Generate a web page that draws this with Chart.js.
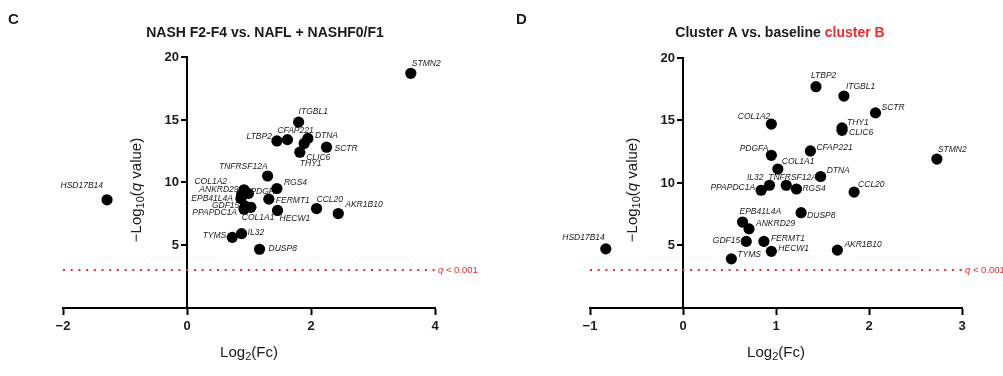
<!DOCTYPE html>
<html><head><meta charset="utf-8">
<script src="https://cdn.jsdelivr.net/npm/chart.js@4/dist/chart.umd.min.js"></script>
<style>
html,body{margin:0;padding:0;background:#fff;width:1003px;height:376px;overflow:hidden}
canvas{position:absolute;top:0}
#c1{left:0}
#c2{left:500px}
</style></head><body>
<canvas id="c1" width="500" height="376" style="width:500px;height:376px"></canvas>
<canvas id="c2" width="503" height="376" style="width:503px;height:376px"></canvas>
<script>
// ---------- DATA ----------
const threshold = 3; // -log10(0.001)

// Panel C: NASH F2-F4 vs. NAFL + NASHF0/F1
const genesC = ['HSD17B14','STMN2','ITGBL1','LTBP2','CFAP221','DTNA','CLIC6','THY1','SCTR','TNFRSF12A','RGS4','COL1A2','PDGFA','ANKRD29','EPB41L4A','FERMT1','GDF15','COL1A1','PPAPDC1A','HECW1','CCL20','AKR1B10','IL32','TYMS','DUSP8'];
const log2fcC = [-1.29,3.61,1.80,1.45,1.62,1.95,1.89,1.82,2.25,1.30,1.45,0.92,0.99,0.88,0.87,1.32,0.94,1.03,0.92,1.46,2.09,2.44,0.88,0.73,1.17];
const negLogQC = [8.6,18.7,14.8,13.3,13.4,13.5,13.1,12.4,12.8,10.5,9.5,9.4,9.1,9.0,8.7,8.65,8.1,8.0,7.85,7.75,7.9,7.5,5.9,5.6,4.65];

// Panel D: Cluster A vs. baseline cluster B
const genesD = ['HSD17B14','STMN2','SCTR','LTBP2','ITGBL1','COL1A2','THY1','CLIC6','PDGFA','CFAP221','COL1A1','DTNA','PPAPDC1A','IL32','TNFRSF12A','RGS4','CCL20','EPB41L4A','ANKRD29','DUSP8','GDF15','FERMT1','HECW1','AKR1B10','TYMS'];
const log2fcD = [-0.83,2.73,2.07,1.43,1.73,0.95,1.71,1.71,0.95,1.37,1.02,1.48,0.84,0.93,1.11,1.22,1.84,0.64,0.71,1.27,0.68,0.87,0.95,1.66,0.52];
const negLogQD = [4.7,11.9,15.6,17.7,16.95,14.7,14.4,14.2,12.2,12.55,11.1,10.5,9.4,9.8,9.8,9.5,9.25,6.85,6.3,7.6,5.3,5.3,4.5,4.6,3.9];

const xTicksC = [-2, 0, 2, 4];
const xTicksD = [-1, 0, 1, 2, 3];
const yTicks = [5, 10, 15, 20];

// ---------- LABEL PLACEMENT (pixel offsets from the point) ----------
const placeC = {
  STMN2:[1,-10,'left'], HSD17B14:[-4,-14,'right'], ITGBL1:[0,-10,'left'], LTBP2:[-5,-4,'right'],
  CFAP221:[-10,-9,'left'], DTNA:[7,-3,'left'], SCTR:[8,1,'left'], CLIC6:[2,14,'left'], THY1:[0,11,'left'],
  TNFRSF12A:[0,-9,'right'], RGS4:[7,-6,'left'], COL1A2:[-17,-8,'right'], ANKRD29:[-3,-5,'right'],
  PDGFA:[2,-2,'left'], EPB41L4A:[-8,0,'right'], FERMT1:[7,1,'left'], GDF15:[-6,0,'right'],
  PPAPDC1A:[-7,3,'right'], COL1A1:[-9,10,'left'], HECW1:[2,8,'left'], CCL20:[0,-9,'left'],
  AKR1B10:[7,-9,'left'], TYMS:[-6,-2,'right'], IL32:[6,-1,'left'], DUSP8:[9,-1,'left']
};
const placeD = {
  LTBP2:[-5,-11,'left'], ITGBL1:[2,-9,'left'], SCTR:[6,-5,'left'], COL1A2:[-1,-7,'right'],
  THY1:[5,-5,'left'], CLIC6:[7,2,'left'], PDGFA:[-3,-7,'right'], CFAP221:[6,-3,'left'],
  COL1A1:[4,-7,'left'], DTNA:[6,-6,'left'], IL32:[-6,-8,'right'], TNFRSF12A:[-18,-8,'left'],
  PPAPDC1A:[-6,-3,'right'], RGS4:[6,0,'left'], CCL20:[4,-7,'left'], EPB41L4A:[-3,-10,'left'],
  DUSP8:[6,3,'left'], ANKRD29:[7,-5,'left'], GDF15:[-6,-1,'right'], FERMT1:[7,-3,'left'],
  HECW1:[7,-3,'left'], AKR1B10:[7,-5,'left'], TYMS:[6,-4,'left'], STMN2:[1,-9,'left'],
  HSD17B14:[-1,-11,'right']
};

// ---------- DRAWING ----------
const FF = "'Liberation Sans', Arial, Helvetica, sans-serif";
const INK = '#1a1a1a';
const RED = '#ee2a2e';

function drawRich(ctx, parts, x, y) {
  let w = 0;
  parts.forEach(p => { ctx.font = p.font; w += ctx.measureText(p.t).width; });
  let cx = x - w / 2;
  ctx.textBaseline = 'middle';
  ctx.textAlign = 'left';
  parts.forEach(p => {
    ctx.font = p.font;
    ctx.fillStyle = p.color || INK;
    ctx.fillText(p.t, cx, y + (p.dy || 0));
    cx += ctx.measureText(p.t).width;
  });
}

const labelPlugin = {
  id: 'geneLabels',
  beforeDatasetsDraw(chart) {
    const cfg = chart.options.plugins.geneLabels;
    const meta = chart.getDatasetMeta(0);
    const ctx = chart.ctx;
    ctx.save();
    ctx.font = 'italic 8.5px ' + FF;
    ctx.fillStyle = INK;
    ctx.textBaseline = 'middle';
    meta.data.forEach((pt, i) => {
      const g = cfg.genes[i];
      const p = cfg.place[g] || [6, 0, 'left'];
      ctx.textAlign = p[2];
      ctx.fillText(g, pt.x + p[0], pt.y + p[1]);
    });
    ctx.restore();
  }
};

function fmtTick(v) { return v < 0 ? '\u2212' + Math.abs(v) : String(v); }

const decorPlugin = {
  id: 'decor',
  afterDraw(chart) {
    const cfg = chart.options.plugins.decor;
    const ctx = chart.ctx;
    const xs = chart.scales.x, ys = chart.scales.y;
    const area = chart.chartArea;
    const ax = xs.getPixelForValue(0);
    ctx.save();
    // y ticks and labels (axis crosses at x = 0)
    ctx.strokeStyle = '#000';
    ctx.lineWidth = 2;
    ctx.font = 'bold 13px ' + FF;
    ctx.fillStyle = INK;
    ctx.textAlign = 'right';
    ctx.textBaseline = 'middle';
    ys.ticks.forEach(t => {
      const py = Math.round(ys.getPixelForValue(t.value));
      ctx.beginPath();
      ctx.moveTo(ax - 6, py);
      ctx.lineTo(ax, py);
      ctx.stroke();
      ctx.fillText(fmtTick(t.value), ax - 8, py + 0.5);
    });
    // panel letter
    ctx.font = 'bold 15px ' + FF;
    ctx.textAlign = 'left';
    ctx.fillText(cfg.letter, cfg.letterX, 20);
    // title
    drawRich(ctx, cfg.title, cfg.titleX, 33);
    // x title
    drawRich(ctx, [
      {t:'Log', font:'15px ' + FF},
      {t:'2', font:'11px ' + FF, dy:4},
      {t:'(Fc)', font:'15px ' + FF}
    ], (area.left + area.right) / 2, 353);
    // y title (rotated)
    ctx.save();
    ctx.translate(ax - 50, 190);
    ctx.rotate(-Math.PI / 2);
    drawRich(ctx, [
      {t:'\u2212Log', font:'15px ' + FF},
      {t:'10', font:'11px ' + FF, dy:4},
      {t:'(', font:'15px ' + FF},
      {t:'q', font:'italic 15px ' + FF},
      {t:' value)', font:'15px ' + FF}
    ], 0, 0);
    ctx.restore();
    // threshold label
    const ty = ys.getPixelForValue(threshold);
    const tx = xs.getPixelForValue(cfg.xMax) + 3;
    ctx.textBaseline = 'middle';
    ctx.textAlign = 'left';
    ctx.fillStyle = RED;
    ctx.font = 'italic 9.5px ' + FF;
    ctx.fillText('q', tx, ty);
    const qw = ctx.measureText('q').width;
    ctx.font = '9.5px ' + FF;
    ctx.fillText(' < 0.001', tx + qw, ty);
    ctx.restore();
  }
};

function makeChart(id, o) {
  return new Chart(document.getElementById(id), {
    type: 'scatter',
    data: { datasets: [
      { data: o.genes.map((g, i) => ({x: o.fc[i], y: o.q[i]})),
        pointRadius: 5.6, pointHoverRadius: 5.6, backgroundColor: '#000', borderColor: '#000',
        borderWidth: 0, clip: false, order: 1 },
      { type: 'line', data: [{x: o.xMin, y: threshold}, {x: o.xMax, y: threshold}],
        borderColor: RED, borderWidth: 2, borderDash: [2, 5.7], pointRadius: 0,
        fill: false, clip: false, order: 2 }
    ]},
    options: {
      responsive: false, animation: false, events: [],
      layout: { padding: o.pad },
      plugins: {
        legend: {display: false}, tooltip: {enabled: false}, title: {display: false},
        geneLabels: { genes: o.genes, place: o.place },
        decor: o.decor
      },
      scales: {
        x: { type: 'linear', min: o.xMin, max: o.xMax, position: {y: 0},
             afterBuildTicks: s => { s.ticks = o.xTicks.map(v => ({value: v})); },
             ticks: { callback: fmtTick, font: {family: FF, size: 13, weight: 'bold'}, color: INK,
                      padding: 5, maxRotation: 0, autoSkip: false },
             grid: { display: true, drawOnChartArea: false, drawTicks: true, tickLength: 6,
                     tickWidth: 2, tickColor: '#000', color: '#000' },
             border: { display: true, color: '#000', width: 2 } },
        y: { type: 'linear', min: 0, max: 20, position: {x: 0},
             afterBuildTicks: s => { s.ticks = yTicks.map(v => ({value: v})); },
             ticks: { display: false },
             grid: { display: false, drawOnChartArea: false, drawTicks: false },
             border: { display: true, color: '#000', width: 2 } }
      }
    },
    plugins: [labelPlugin, decorPlugin]
  });
}

makeChart('c1', {
  genes: genesC, fc: log2fcC, q: negLogQC, place: placeC, xMin: -2, xMax: 4, xTicks: xTicksC,
  pad: {left: 63, right: 65, top: 57, bottom: 68.5},
  decor: { letter: 'C', letterX: 8, titleX: 265, xMax: 4,
    title: [{t: 'NASH F2-F4 vs. NAFL + NASHF0/F1', font: 'bold 14px ' + FF}] }
});
makeChart('c2', {
  genes: genesD, fc: log2fcD, q: negLogQD, place: placeD, xMin: -1, xMax: 3, xTicks: xTicksD,
  pad: {left: 90, right: 41, top: 58, bottom: 68.5},
  decor: { letter: 'D', letterX: 16, titleX: 280, xMax: 3,
    title: [{t: 'Cluster A vs. baseline ', font: 'bold 14px ' + FF},
            {t: 'cluster B', font: 'bold 14px ' + FF, color: RED}] }
});
</script>
</body></html>
